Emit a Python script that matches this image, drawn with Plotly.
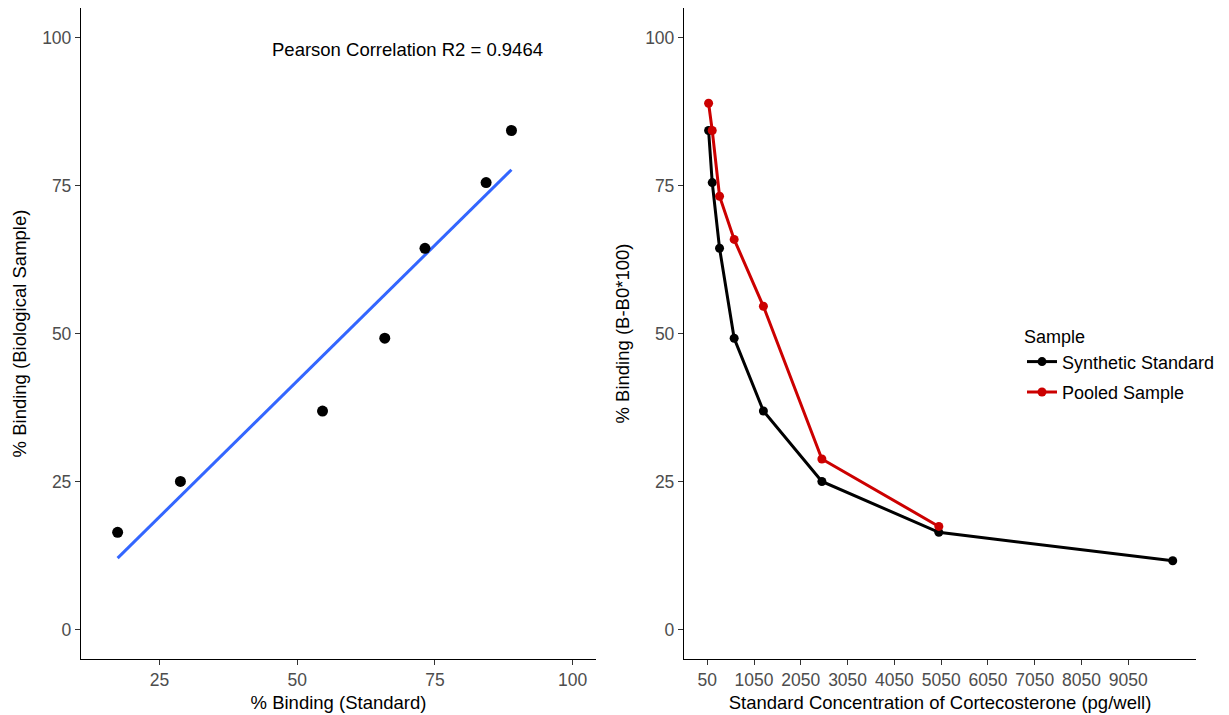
import numpy as np
import plotly.graph_objects as go
from plotly.subplots import make_subplots

# Standard curve concentrations (pg/well), two-fold dilution series
concentration = [78.125, 156.25, 312.5, 625, 1250, 2500, 5000, 10000]

# % binding (B/B0*100) per sample type
synthetic_standard = [84.3, 75.5, 64.4, 49.2, 36.9, 25.0, 16.4, 11.6]
pooled_sample = [88.9, 84.3, 73.2, 65.9, 54.6, 28.8, 17.4]

x_ticks_conc = [50, 1050, 2050, 3050, 4050, 5050, 6050, 7050, 8050, 9050]
y_ticks = [0, 25, 50, 75, 100]
x_ticks_binding = [25, 50, 75, 100]

r2_label = "Pearson Correlation R2 = 0.9464"

# Left panel: pooled sample binding vs standard binding at matching concentrations
x_corr = np.array(pooled_sample)
y_corr = np.array(synthetic_standard[:len(pooled_sample)])
slope, intercept = np.polyfit(x_corr, y_corr, 1)
x_fit = np.array([x_corr.min(), x_corr.max()])
y_fit = slope * x_fit + intercept

FONT = "Liberation Sans, Arial, sans-serif"
TICK_GREY = "#4D4D4D"
BLACK = "#000000"
RED = "#CC0000"
BLUE = "#3366FF"

fig = make_subplots(rows=1, cols=2)

fig.add_trace(go.Scatter(x=x_fit, y=y_fit, mode="lines",
                         line=dict(color=BLUE, width=3),
                         showlegend=False, hoverinfo="skip"), row=1, col=1)
fig.add_trace(go.Scatter(x=x_corr, y=y_corr, mode="markers",
                         marker=dict(color=BLACK, size=11),
                         showlegend=False), row=1, col=1)

fig.add_trace(go.Scatter(x=concentration, y=synthetic_standard, mode="lines+markers",
                         name="Synthetic Standard", legendgroup="a",
                         line=dict(color=BLACK, width=3),
                         marker=dict(color=BLACK, size=9)), row=1, col=2)
fig.add_trace(go.Scatter(x=concentration[:len(pooled_sample)], y=pooled_sample,
                         mode="lines+markers", name="Pooled Sample", legendgroup="b",
                         line=dict(color=RED, width=3),
                         marker=dict(color=RED, size=9)), row=1, col=2)

W, H = 1229, 715
ydom = [1 - 659 / H, 1 - 8 / H]

axis_common = dict(
    showline=True, linecolor=BLACK, linewidth=1.3, mirror=False,
    showgrid=False, zeroline=False,
    ticks="outside", ticklen=5, tickwidth=1.1, tickcolor="#333333",
    tickfont=dict(family=FONT, size=17.5, color=TICK_GREY),
)

fig.update_xaxes(axis_common)
fig.update_yaxes(axis_common)

title_font = dict(family=FONT, size=18.5, color=BLACK)

fig.update_xaxes(row=1, col=1, domain=[81 / W, 596 / W], range=[10.75, 104.25],
                 tickvals=x_ticks_binding,
                 title=dict(text="% Binding (Standard)", standoff=6, font=title_font))
fig.update_yaxes(row=1, col=1, domain=ydom, range=[-5, 105], tickvals=y_ticks,
                 title=dict(text="% Binding (Biological Sample)", standoff=10, font=title_font))
fig.update_xaxes(row=1, col=2, domain=[684 / W, 1196 / W], range=[-447.5, 10497.5],
                 tickvals=x_ticks_conc,
                 title=dict(text="Standard Concentration of Cortecosterone (pg/well)", standoff=6,
                            font=title_font))
fig.update_yaxes(row=1, col=2, domain=ydom, range=[-5, 105], tickvals=y_ticks,
                 title=dict(text="% Binding (B-B0*100)", standoff=10, font=title_font))

fig.add_annotation(x=70, y=98, xref="x", yref="y", text=r2_label, showarrow=False,
                   font=dict(family=FONT, size=18.5, color=BLACK))

fig.update_layout(
    width=W, height=H,
    margin=dict(l=0, r=0, t=0, b=0),
    paper_bgcolor="white", plot_bgcolor="white",
    font=dict(family=FONT, color=BLACK),
    legend=dict(
        x=1022 / W, y=1 - 320 / H, xanchor="left", yanchor="top",
        title=dict(text="Sample", font=dict(family=FONT, size=18, color=BLACK)),
        font=dict(family=FONT, size=18, color=BLACK),
        tracegroupgap=4, itemwidth=30, bgcolor="rgba(0,0,0,0)",
    ),
)

fig.write_html("out.html")
